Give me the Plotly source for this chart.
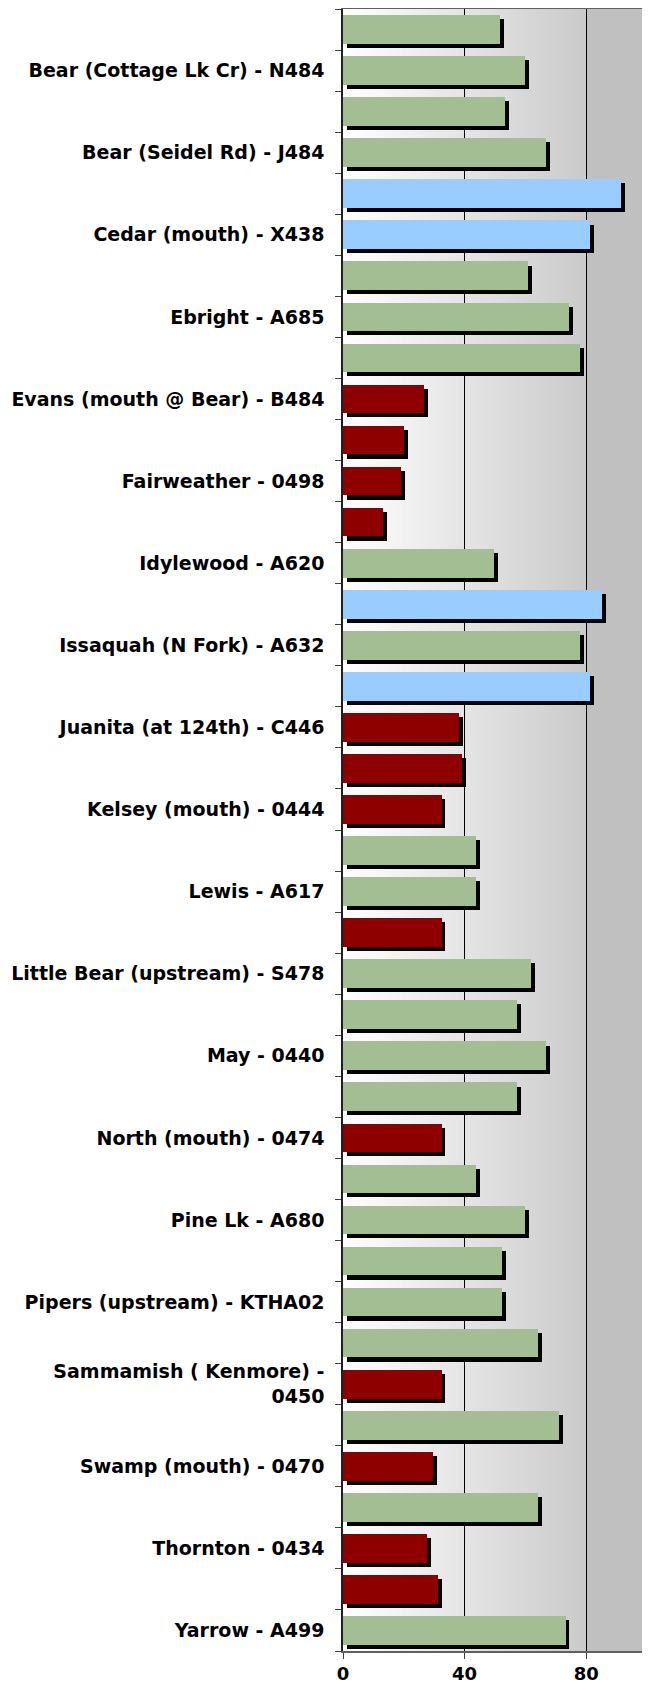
import plotly.graph_objects as go

# ---- data (top to bottom, two bars per station; label sits on the lower bar) ----
stations = [
    "Bear (Cottage Lk Cr) - N484",
    "Bear (Seidel Rd) - J484",
    "Cedar (mouth) - X438",
    "Ebright - A685",
    "Evans (mouth @ Bear) - B484",
    "Fairweather - 0498",
    "Idylewood - A620",
    "Issaquah (N Fork) - A632",
    "Juanita (at 124th) - C446",
    "Kelsey (mouth) - 0444",
    "Lewis - A617",
    "Little Bear (upstream) - S478",
    "May - 0440",
    "North (mouth) - 0474",
    "Pine Lk - A680",
    "Pipers (upstream) - KTHA02",
    "Sammamish ( Kenmore) -<br>0450",
    "Swamp (mouth) - 0470",
    "Thornton - 0434",
    "Yarrow - A499",
]

values = [
    51.5, 60.0,
    53.4, 66.9,
    91.3, 81.1,
    61.0, 74.2,
    78.1, 26.8,
    20.2, 19.2,
    13.2, 49.8,
    85.1, 78.1,
    81.1, 38.3,
    39.3, 32.4,
    43.9, 43.9,
    32.4, 62.0,
    57.1, 66.9,
    57.1, 32.4,
    43.9, 60.0,
    52.4, 52.4,
    64.0, 32.4,
    71.2, 29.7,
    64.0, 27.7,
    31.3, 73.2,
]

ratings = [
    "fair", "fair",
    "fair", "fair",
    "good", "good",
    "fair", "fair",
    "fair", "poor",
    "poor", "poor",
    "poor", "fair",
    "good", "fair",
    "good", "poor",
    "poor", "poor",
    "fair", "fair",
    "poor", "fair",
    "fair", "fair",
    "fair", "poor",
    "fair", "fair",
    "fair", "fair",
    "fair", "poor",
    "fair", "poor",
    "fair", "poor",
    "poor", "fair",
]

x_ticks = [0, 40, 80]

# ---- styling ----
rating_colors = {"poor": "#8E0000", "fair": "#A3BE92", "good": "#99CCFF"}
n = len(values)
pos = [n - 1 - i for i in range(n)]          # top bar highest
colors = [rating_colors[r] for r in ratings]
label_pos = [pos[2 * k + 1] for k in range(len(stations))]
boundaries = [p - 0.5 for p in range(n + 1)]

bar_w = 0.7
shadow_dx = 1.3
shadow_dy = 0.1

fig = go.Figure()

# shadow bars
fig.add_trace(go.Bar(
    orientation="h", y=[p - shadow_dy for p in pos], x=values, base=shadow_dx,
    width=bar_w, marker=dict(color="black", line=dict(width=0)),
    hoverinfo="skip", showlegend=False,
))
# main bars
fig.add_trace(go.Bar(
    orientation="h", y=pos, x=values, width=bar_w,
    marker=dict(color=colors, line=dict(width=0)),
    showlegend=False,
))

# background gradient (white -> grey up to 80, flat grey beyond)
shapes = []
steps = 80
for i in range(steps):
    x0 = 80 * i / steps
    x1 = min(80, 80 * (i + 1.6) / steps)
    g = round(255 - (255 - 202) * (i + 0.5) / steps)
    shapes.append(dict(type="rect", xref="x", yref="paper", x0=x0, x1=x1, y0=0, y1=1,
                       fillcolor=f"rgb({g},{g},{g})", line=dict(width=0), layer="below"))
shapes.append(dict(type="rect", xref="x", yref="paper", x0=80, x1=100, y0=0, y1=1,
                   fillcolor="rgb(192,192,192)", line=dict(width=0), layer="below"))
shapes.append(dict(type="line", xref="x", yref="paper", x0=100, x1=100, y0=0, y1=1,
                   line=dict(color="#707070", width=1.5)))

fig.update_layout(
    width=642, height=1688,
    margin=dict(l=335, r=3, t=1, b=45, autoexpand=False),
    paper_bgcolor="white", plot_bgcolor="white",
    barmode="overlay", bargap=0,
    shapes=shapes,
    showlegend=False,
    font=dict(family="DejaVu Sans", color="black"),
)

fig.update_xaxes(
    range=[0, 100], tickmode="array", tickvals=x_ticks, ticktext=[str(t) for t in x_ticks],
    showgrid=True, gridcolor="black", gridwidth=1, zeroline=False,
    showline=True, linecolor="#606060", linewidth=1.5, mirror=True,
    ticks="outside", ticklen=6, tickcolor="#404040", automargin=False,
    tickfont=dict(family="DejaVu Sans", size=18, weight="bold", color="black"),
)

fig.update_yaxes(
    range=[-0.5, n - 0.5], tickmode="array", tickvals=label_pos, ticktext=stations,
    showgrid=False, zeroline=False, automargin=False,
    showline=True, linecolor="#202020", linewidth=1.5,
    ticks="outside", ticklen=13, tickcolor="rgba(0,0,0,0)",
    tickfont=dict(family="DejaVu Sans", size=19, weight="bold", color="black"),
    minor=dict(tickmode="array", tickvals=boundaries, ticks="outside", ticklen=6,
               tickcolor="#404040", tickwidth=1, showgrid=False),
)

fig.write_html("out.html")
